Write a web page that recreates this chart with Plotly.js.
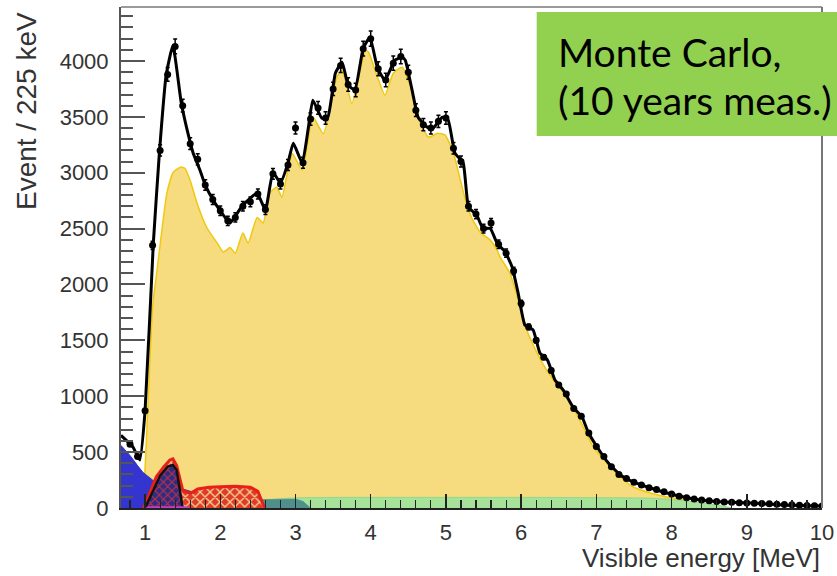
<!DOCTYPE html>
<html>
<head>
<meta charset="utf-8">
<script src="https://cdn.plot.ly/plotly-3.0.1.min.js"></script>
<style>html,body{margin:0;padding:0;background:#fff;}#chart{width:837px;height:576px;}</style>
</head>
<body>
<div id="chart"></div>
<script>
// ---- Data ----
// Measured (MC) data points: visible energy [MeV] and events / 225 keV
const dataX = [0.8,0.9,1.0,1.1,1.2,1.3,1.4,1.5,1.6,1.7,1.8,1.9,2.0,2.1,2.2,2.3,2.4,2.5,2.6,2.7,2.8,2.9,3.0,3.1,3.2,3.3,3.4,3.5,3.6,3.7,3.8,3.9,4.0,4.1,4.2,4.3,4.4,4.5,4.6,4.7,4.8,4.9,5.0,5.1,5.2,5.3,5.4,5.5,5.6,5.7,5.8,5.9,6.0,6.1,6.2,6.3,6.4,6.5,6.6,6.7,6.8,6.9,7.0,7.1,7.2,7.3,7.4,7.5,7.6,7.7,7.8,7.9,8.0,8.1,8.2,8.3,8.4,8.5,8.6,8.7,8.8,8.9,9.0,9.1,9.2,9.3,9.4,9.5,9.6,9.7,9.8,9.9,10.0];
const dataY = [570,460,870,2350,3200,3880,4130,3600,3260,3120,2890,2760,2660,2570,2600,2700,2740,2810,2670,2990,2900,3070,3400,3090,3480,3580,3490,3750,3960,3790,3740,4110,4200,3930,3830,3980,4040,3900,3560,3430,3400,3460,3490,3220,3100,2700,2630,2500,2550,2360,2280,2120,1830,1620,1500,1350,1230,1100,1020,890,820,670,550,460,370,300,265,230,205,182,165,145,125,105,92,80,71,64,58,54,51,48,45,43,40,37,34,31,28,25,23,21,18];

// Total expected spectrum (black curve)
const totalX = [0.68,0.84,0.93,1.00,1.11,1.19,1.28,1.37,1.48,1.56,1.64,1.73,1.80,1.93,2.09,2.13,2.30,2.49,2.60,2.70,2.80,2.90,2.97,3.09,3.17,3.23,3.35,3.43,3.53,3.62,3.70,3.79,3.90,3.99,4.09,4.19,4.32,4.42,4.46,4.55,4.63,4.75,4.83,4.95,5.03,5.12,5.23,5.30,5.41,5.49,5.59,5.68,5.79,5.88,5.96,6.05,6.16,6.25,6.35,6.45,6.56,6.69,6.81,6.89,7.01,7.16,7.32,7.49,7.72,7.94,8.16,8.38,8.69,9.05,9.48,10.0];
const totalY = [650,545,430,870,2370,3175,3873,4141,3631,3381,3175,3023,2889,2728,2576,2549,2710,2817,2665,3005,2907,3086,3265,3086,3399,3649,3488,3497,3891,3989,3784,3739,4114,4213,3936,3828,4007,4034,4007,3739,3497,3408,3399,3497,3470,3175,3086,2692,2621,2504,2500,2370,2290,2156,1923,1637,1592,1386,1324,1145,1055,903,814,680,546,402,295,233,179,134,98,72,54,45,27,18];

// Reactor antineutrino component (yellow)
const reactorX = [0.96,1.00,1.05,1.10,1.16,1.29,1.37,1.47,1.53,1.60,1.69,1.82,1.96,2.04,2.13,2.20,2.30,2.37,2.49,2.57,2.66,2.75,2.82,2.88,2.96,3.09,3.23,3.37,3.55,3.62,3.75,3.93,3.97,4.09,4.19,4.30,4.42,4.53,4.66,4.77,4.89,4.99,5.10,5.25,5.34,5.46,5.59,5.68,5.72,5.85,5.99,6.09,6.26,6.43,6.61,6.78,6.96,7.14,7.32,7.49,7.72,7.92,8.10,8.30,8.50];
const reactorY = [0,350,1100,1800,2130,2817,3000,3050,3040,2930,2730,2510,2370,2290,2330,2280,2460,2370,2600,2550,2820,2870,2780,2960,3170,3020,3500,3350,3855,3920,3620,4097,4080,3855,3694,3891,3944,3766,3444,3318,3354,3336,3175,2780,2600,2465,2397,2308,2245,2100,1800,1565,1324,1145,993,787,546,402,277,188,134,100,80,40,0];

// Accidental / other backgrounds (green band)
const greenX = [0.68,1.0,2.0,2.6,3.0,4.0,5.0,6.0,7.0,7.8,8.3,8.7,8.8];
const greenY = [60,60,62,75,90,95,95,95,92,85,55,15,0];

// Dark teal background piece
const tealX = [2.45,2.55,3.00,3.10,3.20];
const tealY = [0,75,80,60,0];

// Low-energy background (blue)
const blueX = [0.68,0.80,0.90,0.97,1.10,1.20,1.40,1.60,1.75,1.90,2.05];
const blueY = [560,470,380,320,250,220,190,150,100,50,0];

// Hatched red component
const redX = [0.98,1.05,1.15,1.25,1.33,1.37,1.42,1.50,1.60,1.70,1.85,2.00,2.20,2.40,2.50,2.57,2.60];
const redY = [0,120,280,370,430,440,380,160,130,170,185,190,195,185,150,30,0];

// Black outlined component
const blackX = [1.00,1.10,1.20,1.30,1.37,1.42,1.47,1.50];
const blackY = [0,150,290,370,385,340,150,0];

// Magenta strip
const magX = [1.00,1.05,1.55,1.60];
const magY = [0,14,14,0];

const yTicks = [0,500,1000,1500,2000,2500,3000,3500,4000];
const xTicks = [1,2,3,4,5,6,7,8,9,10];

// ---- Traces ----
const traces = [
  {x: reactorX, y: reactorY, type:'scatter', mode:'lines', fill:'tozeroy',
   fillcolor:'#f6dc7e', line:{color:'#f0c810', width:1.5, shape:'spline', smoothing:0.5}, hoverinfo:'skip'},
  {x: greenX, y: greenY, type:'scatter', mode:'lines', fill:'tozeroy',
   fillcolor:'#a6e29a', line:{color:'#94d886', width:1, shape:'spline'}, hoverinfo:'skip'},
  {x: tealX, y: tealY, type:'scatter', mode:'lines', fill:'tozeroy',
   fillcolor:'#4f8f8c', line:{color:'#4f8f8c', width:0.5}, hoverinfo:'skip'},
  {x: blueX, y: blueY, type:'scatter', mode:'lines', fill:'tozeroy',
   fillcolor:'#3434cf', line:{color:'#3434cf', width:1}, hoverinfo:'skip'},
  {x: redX, y: redY, type:'scatter', mode:'lines', fill:'tozeroy',
   fillcolor:'#e03a2a', fillpattern:{shape:'x', bgcolor:'#e03a2a', fgcolor:'#f2d08a', size:7, solidity:0.35},
   line:{color:'#e8201a', width:3}, hoverinfo:'skip'},
  {x: blackX, y: blackY, type:'scatter', mode:'lines', fill:'tozeroy',
   fillcolor:'#2c2c86', fillpattern:{shape:'x', bgcolor:'#2c2c86', fgcolor:'#c03040', size:6, solidity:0.35},
   line:{color:'#111111', width:2.5}, hoverinfo:'skip'},
  {x: magX, y: magY, type:'scatter', mode:'lines', fill:'tozeroy',
   fillcolor:'#c43cc8', line:{color:'#c43cc8', width:0.5}, hoverinfo:'skip'},
  {x: totalX, y: totalY, type:'scatter', mode:'lines',
   line:{color:'#000000', width:3, shape:'spline', smoothing:0.4}, hoverinfo:'skip'},
  {x: dataX, y: dataY, type:'scatter', mode:'markers',
   marker:{color:'#000000', size:7, symbol:'circle'},
   error_y:{type:'percent', value:1.6, color:'#000000', thickness:1.5, width:2}}
];

const tickFont = {family:'Liberation Sans, Arial, sans-serif', size:22, color:'#333333'};

const layout = {
  width: 837, height: 576,
  margin: {l:121, r:15, t:7, b:68, pad:0},
  paper_bgcolor:'#ffffff', plot_bgcolor:'#ffffff',
  showlegend:false,
  xaxis: {
    range:[0.68,10], tickmode:'array', tickvals:xTicks, ticktext:xTicks.map(String),
    ticks:'inside', ticklen:14, tickwidth:1.5, tickcolor:'#222222',
    minor:{tickmode:'linear', tick0:0, dtick:0.2, ticks:'inside', ticklen:8, tickwidth:1.2, tickcolor:'#222222'},
    showgrid:false, zeroline:false, showline:true, linecolor:'#222222', linewidth:2,
    tickfont:tickFont, ticklabelstandoff:4
  },
  yaxis: {
    range:[0,4483], tickmode:'array', tickvals:yTicks, ticktext:yTicks.map(String),
    ticks:'inside', ticklen:24, tickwidth:2, tickcolor:'#555555',
    minor:{tickmode:'linear', tick0:0, dtick:100, ticks:'inside', ticklen:12, tickwidth:2, tickcolor:'#555555'},
    showgrid:false, zeroline:false, showline:true, linecolor:'#555555', linewidth:2,
    tickfont:tickFont, ticklabelstandoff:6
  },
  shapes: [
    {type:'line', xref:'paper', yref:'paper', x0:0, x1:1, y0:1, y1:1, line:{color:'#9a9a9a', width:2}},
    {type:'line', xref:'paper', yref:'paper', x0:1, x1:1, y0:0, y1:1, line:{color:'#777777', width:2}},
    {type:'rect', xref:'paper', yref:'paper', x0:0.593, x1:1.03, y0:0.7425, y1:0.99,
     fillcolor:'#92d050', line:{width:0}, layer:'above'}
  ],
  annotations: [
    {xref:'paper', yref:'paper', x:1.0, y:-0.0998, xanchor:'right', yanchor:'middle', showarrow:false,
     text:'Visible energy [MeV]', font:{family:'Liberation Sans, Arial, sans-serif', size:26, color:'#333333'}},
    {xref:'paper', yref:'paper', x:-0.1355, y:0.994, xanchor:'center', yanchor:'top', showarrow:false, textangle:-90,
     text:'Event / 225 keV', font:{family:'Liberation Sans, Arial, sans-serif', size:28, color:'#333333'}},
    {xref:'paper', yref:'paper', x:0.6205, y:0.910, xanchor:'left', yanchor:'middle', showarrow:false,
     text:'Monte Carlo,', font:{family:'Lato, sans-serif', size:39, color:'#000000'}},
    {xref:'paper', yref:'paper', x:0.6205, y:0.814, xanchor:'left', yanchor:'middle', showarrow:false,
     text:'(10 years meas.)', font:{family:'Lato, sans-serif', size:39, color:'#000000'}}
  ]
};

Plotly.newPlot('chart', traces, layout, {staticPlot:true, displayModeBar:false});
</script>
</body>
</html>
